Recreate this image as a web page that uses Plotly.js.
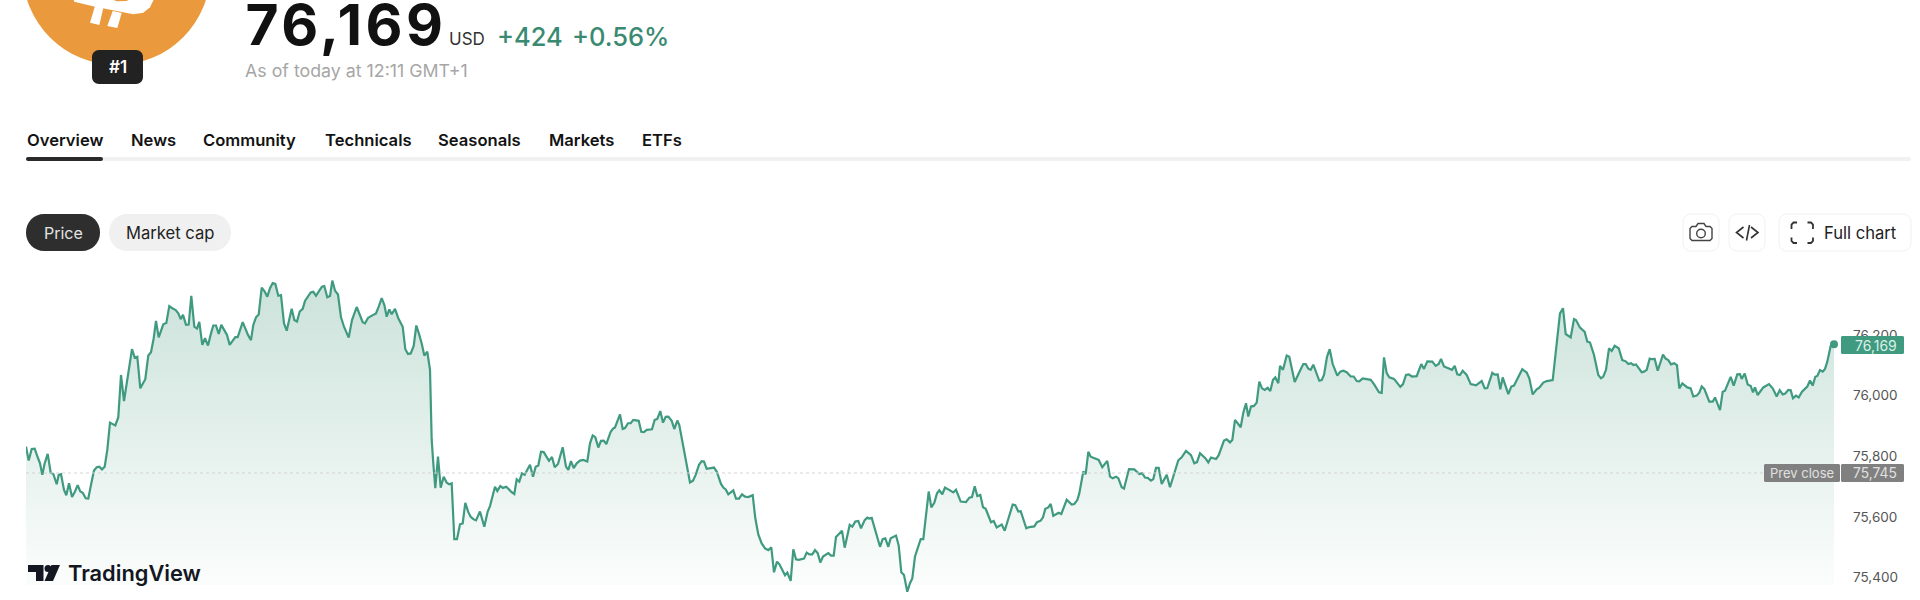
<!DOCTYPE html>
<html>
<head>
<meta charset="utf-8">
<title>BTCUSD</title>
<script src="https://cdn.plot.ly/plotly-3.0.1.min.js"></script>
<style>html,body{margin:0;padding:0;background:#fff;overflow:hidden}#chart{width:1920px;height:600px}</style>
</head>
<body>
<div id="chart"></div>
<script>
// elapsed session time (chart time units) and price (USD)
const elapsed = [
0,2.7,5.7,8.7,11.7,14,16.3,18.7,21.7,24.7,
27.3,30.7,32.7,35,38,40.3,43,46,49,51.7,
54.3,56.7,59.7,62.3,65,68,70.7,73.3,76,78.7,
81.3,84,86.3,89.3,92.3,95,98,101,103.3,106,
108.7,111.3,114.3,119.3,122.3,125,127.7,130,132.7,137.3,
140.3,143.3,146.3,149.7,152.3,154.7,157,160,162.7,165.3,
168.3,171,173.3,176.3,179,182,185,187.3,190,192.7,
195.3,198.3,201,203.7,206.7,209.3,211.7,216.7,222,225,
227.3,230,232.7,235.7,238.7,241.3,244,246.7,249.3,252.3,
255,258,260.7,265.7,268.3,271,273.7,276.7,279,281.7,
284.7,287.3,290,293.3,296,298.3,301.3,304,306.3,309,
312,315,318,322.7,326,330.7,336.7,339,342,345,
350,352.7,355.7,358.3,360.7,363.3,365.7,369,372.3,376.7,
379.3,382,384.7,387.7,390.3,393.3,395.7,398.3,401.3,404,
405.7,407.3,409.3,412,414.7,417.7,420.7,423.3,425.7,428.3,
431,434,436.7,439.3,442.3,444.7,447.3,450,454,458.3,
461.7,464,469,471.3,474.3,477,480.3,485,488.3,490.7,
493.3,496,498.7,504,507,509.7,512.3,515,517.7,523,
526,528.7,532,536.7,540,542.3,545,547.7,550.7,554,
557.3,561.3,564,566.7,569.3,572.3,575,577.7,580.3,584.7,
587.3,589,594,596.7,599,602,604.7,607.3,612.7,615.3,
618,620.7,626,628.7,631.3,634.3,637,639.7,642.3,645.7,
648.3,651.3,653.3,664,667,669.7,673,675.7,678,680.7,
684.7,688,690.7,695,697.3,699.7,702.3,707.3,710,713,
716,719,722.3,726.7,729.3,732.3,735.7,739,742.3,745.3,
748,751,753.3,759,761.3,764.7,767.3,770,772.7,778,
780.7,783.3,786.3,789,791.7,794.3,797,802.3,805,807.7,
810,816,818.7,823.7,826.3,829.3,832.3,835,838.7,841.3,
843.3,845.7,854,856.7,859.3,862.3,864.7,870,872.7,875.3,
878,881.3,884,886.3,889,891.7,894.7,897.3,902.7,905.3,
908.3,911,913.3,916.3,919,924,927.3,930,934.7,940,
943.3,946,948.7,951.3,954.3,957,959.7,965,967.7,970.7,
975.7,978.7,983.3,986.7,989.3,992.3,994.7,1000.3,1003.3,1008.3,
1011,1014.7,1017,1019.3,1022,1024.7,1027.3,1030,1032.7,1035.3,
1040.7,1045.7,1048.3,1051.3,1053.3,1057.3,1059.7,1062.3,1064.7,1067.3,
1072.7,1076.3,1081.3,1084,1086.7,1090,1092.3,1095.7,1098,1103,
1108.3,1113.3,1116.3,1119,1121.7,1125,1127.3,1130,1132.7,1135.7,
1140.7,1144,1152.3,1155.7,1160,1165,1168.3,1171,1174,1179.3,
1182.3,1185,1190,1192.7,1198,1200.7,1204,1206.3,1209,1214.7,
1217.3,1220,1222.3,1225,1228,1230.7,1233.3,1236,1238.7,1241.7,
1244.3,1247,1249.3,1252.3,1254,1257,1260.7,1263.3,1268.7,1274,
1277.3,1279.7,1282.3,1284.7,1287.3,1293.3,1295.7,1298,1301,1303.7,
1306.7,1311.3,1314.3,1317.3,1320.7,1324.7,1327.7,1330.7,1333.3,1336.7,
1344.7,1348,1353,1355.7,1358,1360.7,1363.3,1368,1371.3,1374.3,
1377,1380,1382.7,1386,1390.7,1395.3,1398,1401.3,1406.3,1409.7,
1412.7,1415,1418,1423.3,1426,1428.7,1431.3,1434,1436.7,1440.7,
1444.7,1450,1455.7,1458.7,1461.3,1466.3,1468.7,1471.7,1474.3,1476.7,
1482.3,1485.3,1488,1496.3,1500.7,1503.3,1506.7,1510.7,1513.3,1517.3,
1520.7,1526.7,1534,1537,1539.7,1544.7,1548,1550,1554,1558.7,
1561.3,1564,1568,1572.3,1575,1577.3,1580,1583,1585.7,1588.7,
1592.7,1596.3,1599.7,1602.3,1605,1607.3,1610,1615.7,1618,1620.7,
1623.7,1626,1628.7,1631.7,1637,1639.7,1642.3,1645,1648.3,1651,
1653.3,1656.3,1661.3,1664.7,1667.3,1670.7,1673.3,1675.7,1678.3,1683.3,
1686.7,1689,1694,1696.7,1699,1704.7,1707.7,1711.3,1714,1715.7,
1718.7,1721.7,1724.7,1727,1729,1731.7,1737.3,1743,1746.7,1750.7,
1753.7,1756.7,1759.3,1762.3,1764.7,1767,1770,1772.7,1776,1781.3,
1784,1786.7,1789.3,1791.3,1794,1796.7,1799,1801.3,1804.7,1808
];
const price = [
75832,75786,75824,75825,75797,75777,75739,75777,75808,75746,
75742,75708,75739,75741,75689,75672,75711,75666,75684,75705,
75684,75680,75662,75661,75706,75753,75764,75766,75757,75766,
75821,75911,75907,75902,75929,76068,75982,76046,76107,76153,
76125,76128,76024,76054,76132,76143,76189,76246,76192,76235,
76239,76295,76288,76282,76271,76252,76266,76233,76234,76329,
76227,76221,76243,76167,76189,76165,76205,76231,76231,76203,
76233,76214,76200,76167,76183,76193,76193,76242,76200,76183,
76233,76258,76267,76356,76343,76326,76354,76371,76368,76329,
76331,76238,76214,76286,76249,76244,76277,76286,76312,76324,
76340,76342,76329,76346,76359,76361,76324,76328,76379,76346,
76333,76258,76227,76191,76249,76292,76242,76238,76256,76262,
76271,76293,76321,76299,76260,76284,76268,76286,76255,76227,
76153,76137,76139,76164,76231,76200,76172,76132,76145,76085,
75854,75777,75695,75799,75697,75733,75713,75708,75711,75527,
75527,75576,75579,75647,75616,75601,75593,75589,75618,75568,
75618,75636,75700,75686,75702,75696,75700,75684,75676,75724,
75717,75744,75739,75772,75733,75766,75770,75815,75814,75785,
75798,75764,75775,75830,75766,75755,75784,75761,75777,75786,
75788,75783,75843,75869,75863,75829,75851,75852,75840,75881,
75892,75895,75938,75890,75893,75909,75909,75920,75917,75881,
75880,75887,75889,75920,75923,75949,75911,75930,75931,75917,
75890,75918,75903,75714,75720,75739,75772,75784,75783,75759,
75761,75763,75750,75709,75697,75691,75675,75688,75661,75661,
75675,75667,75666,75672,75596,75543,75513,75497,75491,75500,
75418,75453,75445,75408,75417,75390,75494,75461,75459,75463,
75483,75477,75477,75491,75481,75450,75470,75481,75473,75473,
75534,75555,75499,75574,75568,75585,75587,75563,75590,75598,
75595,75597,75502,75527,75530,75502,75530,75539,75506,75418,
75409,75354,75382,75398,75470,75497,75527,75527,75684,75632,
75647,75678,75688,75675,75697,75688,75681,75690,75651,75649,
75664,75666,75701,75669,75673,75632,75627,75583,75587,75566,
75575,75555,75601,75641,75639,75618,75619,75563,75567,75569,
75583,75588,75599,75627,75631,75643,75604,75609,75614,75610,
75657,75641,75643,75656,75678,75750,75741,75815,75799,75795,
75788,75764,75785,75733,75728,75733,75728,75698,75694,75758,
75757,75742,75744,75730,75729,75720,75725,75762,75762,75709,
75739,75698,75787,75797,75818,75804,75777,75781,75810,75794,
75780,75796,75791,75804,75852,75856,75846,75854,75920,75896,
75944,75975,75931,75964,75966,75977,76046,76024,76019,76026,
76015,76052,76060,76041,76098,76085,76132,76128,76045,76082,
76104,76104,76089,76085,76102,76049,76051,76068,76128,76153,
76104,76066,76079,76082,76077,76063,76063,76048,76047,76057,
76052,76038,76011,76009,76126,76074,76060,76055,76041,76029,
76038,76068,76070,76063,76064,76104,76088,76113,76112,76098,
76104,76121,76096,76090,76085,76098,76070,76068,76082,76068,
76038,76034,76048,76024,76025,76075,76069,76070,76021,76060,
76005,76030,76033,76087,76076,76057,76004,76021,76026,76043,
76048,76051,76271,76288,76203,76192,76252,76249,76224,76210,
76178,76175,76134,76068,76057,76063,76085,76156,76147,76164,
76156,76117,76113,76104,76107,76101,76103,76077,76079,76085,
76122,76120,76121,76082,76135,76122,76117,76103,76107,76100,
76024,76040,76027,76024,75997,76000,76010,76030,76022,75980,
75980,75994,75952,76013,76016,76062,76033,76070,76071,76055,
76073,76037,76032,76011,76027,76002,76027,76038,76024,75997,
76018,76004,76007,76019,76018,75991,76000,75994,76013,76030,
76050,76033,76062,76065,76084,76079,76088,76112,76164,76169
];
const yTicks = [75400, 75600, 75800, 76000, 76200];
const yTickLabels = ["75,400", "75,600", "75,800", "76,000", "76,200"];
const LAST_PRICE = 76169;
const PREV_CLOSE = 75745;
const FILL_FLOOR = 75376;
const GRADIENT_TOP = 76379;
const tabs = ["Overview", "News", "Community", "Technicals", "Seasonals", "Markets", "ETFs"];
const tabStarts = [25.5, 129.5, 201.5, 323.5, 437, 547.5, 640.5];

// Layout helpers (screen position to paper fraction)
const W = 1920, H = 600, L = 26, R = 1834;
const X = p => (p - L) / (R - L);
const Y = p => (H - p) / H;
const UI = 'Inter, "Noto Sans", sans-serif';
const GREEN = '#3f9a80';

function label(px, py, text, size, color, weight, anchor) {
  return {xref:'paper', yref:'paper', x:X(px), y:Y(py), text:text, showarrow:false,
    xanchor:anchor||'left', yanchor:'middle', borderpad:0,
    font:{family:UI, size:size, color:color, weight:weight||400}};
}
function roundRect(x0, y0, x1, y1, r, fill, stroke) {
  const k = r * 0.45;
  const P = (a, b) => X(a) + ',' + Y(b);
  const path = 'M' + P(x0 + r, y0) + ' L' + P(x1 - r, y0) +
    ' C' + P(x1 - k, y0) + ' ' + P(x1, y0 + k) + ' ' + P(x1, y0 + r) +
    ' L' + P(x1, y1 - r) +
    ' C' + P(x1, y1 - k) + ' ' + P(x1 - k, y1) + ' ' + P(x1 - r, y1) +
    ' L' + P(x0 + r, y1) +
    ' C' + P(x0 + k, y1) + ' ' + P(x0, y1 - k) + ' ' + P(x0, y1 - r) +
    ' L' + P(x0, y0 + r) +
    ' C' + P(x0, y0 + k) + ' ' + P(x0 + k, y0) + ' ' + P(x0 + r, y0) + ' Z';
  return {type:'path', xref:'paper', yref:'paper', path:path, fillcolor:fill,
    line: stroke ? {color:stroke, width:1} : {width:0}};
}
function poly(points, fill, stroke, width, close) {
  const path = points.map((p, i) => (i ? 'L' : 'M') + X(p[0]) + ',' + Y(p[1])).join(' ') + (close ? ' Z' : '');
  return {type:'path', xref:'paper', yref:'paper', path:path,
    fillcolor: fill || 'rgba(0,0,0,0)',
    line: stroke ? {color:stroke, width:width||1.4} : {width:0}};
}
function disc(cx, cy, r, fill, stroke, width) {
  return {type:'circle', xref:'paper', yref:'paper', x0:X(cx-r), x1:X(cx+r), y0:Y(cy+r), y1:Y(cy-r),
    fillcolor: fill || 'rgba(0,0,0,0)', line: stroke ? {color:stroke, width:width||1.4} : {width:0}};
}

const shapes = [
  // coin, its symbol and rank badge
  disc(116.5, -29, 94, '#ea9a3d'),
  poly([[73.3,-1],[74.3,1.7],[95,6.7],[133.3,14.3],[143.3,12.7],[150,7.3],[154,-1]], '#ffffff', null, 0, true),
  poly([[95,6],[103.3,8],[99.3,25],[90,22.7]], '#ffffff', null, 0, true),
  poly([[112.7,11],[121.7,13],[117.3,28],[107.3,26]], '#ffffff', null, 0, true),
  poly([[111.7,-1],[116.7,1.3],[126.7,1],[130,-1]], '#ea9a3d', null, 0, true),
  roundRect(92, 50, 143, 84, 7, '#222222'),
  // tab rule
  roundRect(26, 157, 1911, 161, 2, '#f1f1f1'),
  roundRect(26, 157, 103, 161, 2, '#2a2a2a'),
  // pills
  roundRect(26, 214, 100, 251, 18, '#2e2e2e'),
  roundRect(109, 214, 231, 251, 18, '#f0f0f0'),
  // top right buttons
  roundRect(1683, 214, 1719, 251, 8, '#ffffff', '#f0f0f0'),
  roundRect(1729, 214, 1765, 251, 8, '#ffffff', '#f0f0f0'),
  roundRect(1779, 214, 1911, 251, 8, '#ffffff', '#f0f0f0'),
  // camera icon
  poly([[1692,226.5],[1696,226.5],[1698,223.5],[1704,223.5],[1706,226.5],[1710,226.5],[1712,228.5],[1712,238.5],[1710,240.5],[1692,240.5],[1690,238.5],[1690,228.5]], null, '#444444', 1.4, true),
  disc(1701, 233.5, 4.3, null, '#444444', 1.4),
  // embed icon
  poly([[1743.5,227],[1736.5,232.5],[1743.5,238]], null, '#333333', 1.6),
  poly([[1749.5,225],[1746.5,240.5]], null, '#333333', 1.6),
  poly([[1751,227],[1758,232.5],[1751,238]], null, '#333333', 1.6),
  // full chart icon
  poly([[1791.5,229],[1791.5,224.5],[1793.5,222.5],[1797,222.5]], null, '#333333', 1.8),
  poly([[1807.5,222.5],[1811,222.5],[1813,224.5],[1813,229]], null, '#333333', 1.8),
  poly([[1813,237.5],[1813,241],[1811,243],[1807.5,243]], null, '#333333', 1.8),
  poly([[1797,243],[1793.5,243],[1791.5,241],[1791.5,237.5]], null, '#333333', 1.8),
  // previous close level
  {type:'line', xref:'x', yref:'y', x0:0, x1:elapsed[elapsed.length-1], y0:PREV_CLOSE, y1:PREV_CLOSE,
    line:{color:'#d4d4d4', width:1, dash:'dot'}},
  // price tags
  roundRect(1841, 336, 1904, 354, 1.5, GREEN),
  roundRect(1764, 464, 1840, 482, 1.5, '#808080'),
  roundRect(1841, 464, 1904, 482, 1.5, '#808080'),
  // TradingView mark
  poly([[28,565],[43.5,565],[43.5,581],[36,581],[36,572],[28,572]], '#131722', null, 0, true),
  disc(48, 568.6, 3.5, '#131722'),
  poly([[60,565],[53,581],[44.5,581],[51.5,565]], '#131722', null, 0, true)
];

const annotations = [
  label(117.5, 67, '#1', 17, '#ffffff', 600, 'center'),
  label(255, 25, '76,169', 57, '#111111', 700),
  label(448, 39, 'USD', 17, '#333333', 400),
  label(496, 36, '+424', 25.5, '#3a8a72', 500),
  label(571, 36, '+0.56%', 25.5, '#3a8a72', 500),
  label(244, 71, 'As of today at 12:11 GMT+1', 17.8, '#a6a6a6', 400),
  label(63, 233, 'Price', 16, '#e4e4e4', 400, 'center'),
  label(170, 233, 'Market cap', 16.6, '#222222', 400, 'center'),
  label(1823, 233, 'Full chart', 16.6, '#222222', 400),
  label(67, 573, 'TradingView', 21.8, '#131722', 600),
  label(1898, 345, '76,169', 14, '#d9f0e7', 400, 'right'),
  label(1802, 473, 'Prev close', 13, '#e0e0e0', 400, 'center'),
  label(1898, 473, '75,745', 13.8, '#e0e0e0', 400, 'right')
];
tabs.forEach((t, i) => annotations.push(label(tabStarts[i], 140.5, t, 16.6, '#131313', 600)));

const traces = [
  {x:[elapsed[0], elapsed[elapsed.length-1]], y:[FILL_FLOOR, FILL_FLOOR], mode:'lines',
   line:{width:0, color:'rgba(0,0,0,0)'}, hoverinfo:'skip', showlegend:false},
  {x:elapsed, y:price, mode:'lines', line:{color:GREEN, width:2.2, shape:'linear'}, fill:'tonexty',
   fillgradient:{type:'vertical', start:FILL_FLOOR, stop:GRADIENT_TOP,
     colorscale:[[0,'rgb(251,253,252)'],[1,'rgb(203,226,218)']]},
   showlegend:false},
  {x:[elapsed[elapsed.length-1]], y:[LAST_PRICE], mode:'markers', marker:{color:GREEN, size:8},
   cliponaxis:false, showlegend:false}
];

const layout = {
  width:W, height:H, autosize:false, paper_bgcolor:'#ffffff', plot_bgcolor:'#ffffff',
  margin:{l:L, r:W-R, t:0, b:0, pad:0},
  showlegend:false,
  xaxis:{range:[0, 1808], visible:false, fixedrange:true},
  yaxis:{range:[75326.7, 77303.4], side:'right', showgrid:false, zeroline:false, showline:false,
    tickmode:'array', tickvals:yTicks, ticktext:yTickLabels, ticks:'', ticklabelstandoff:18,
    tickfont:{family:UI, size:13.5, color:'#555555'}, fixedrange:true},
  shapes:shapes, annotations:annotations
};
Plotly.newPlot('chart', traces, layout, {displayModeBar:false, staticPlot:true}).then(gd => {
  gd.querySelectorAll('.annotation-text').forEach(t => {
    if (t.textContent === '76,169' && parseFloat(t.style.fontSize) > 40) t.style.letterSpacing = '3.5px';
  });
});
</script>
</body>
</html>
